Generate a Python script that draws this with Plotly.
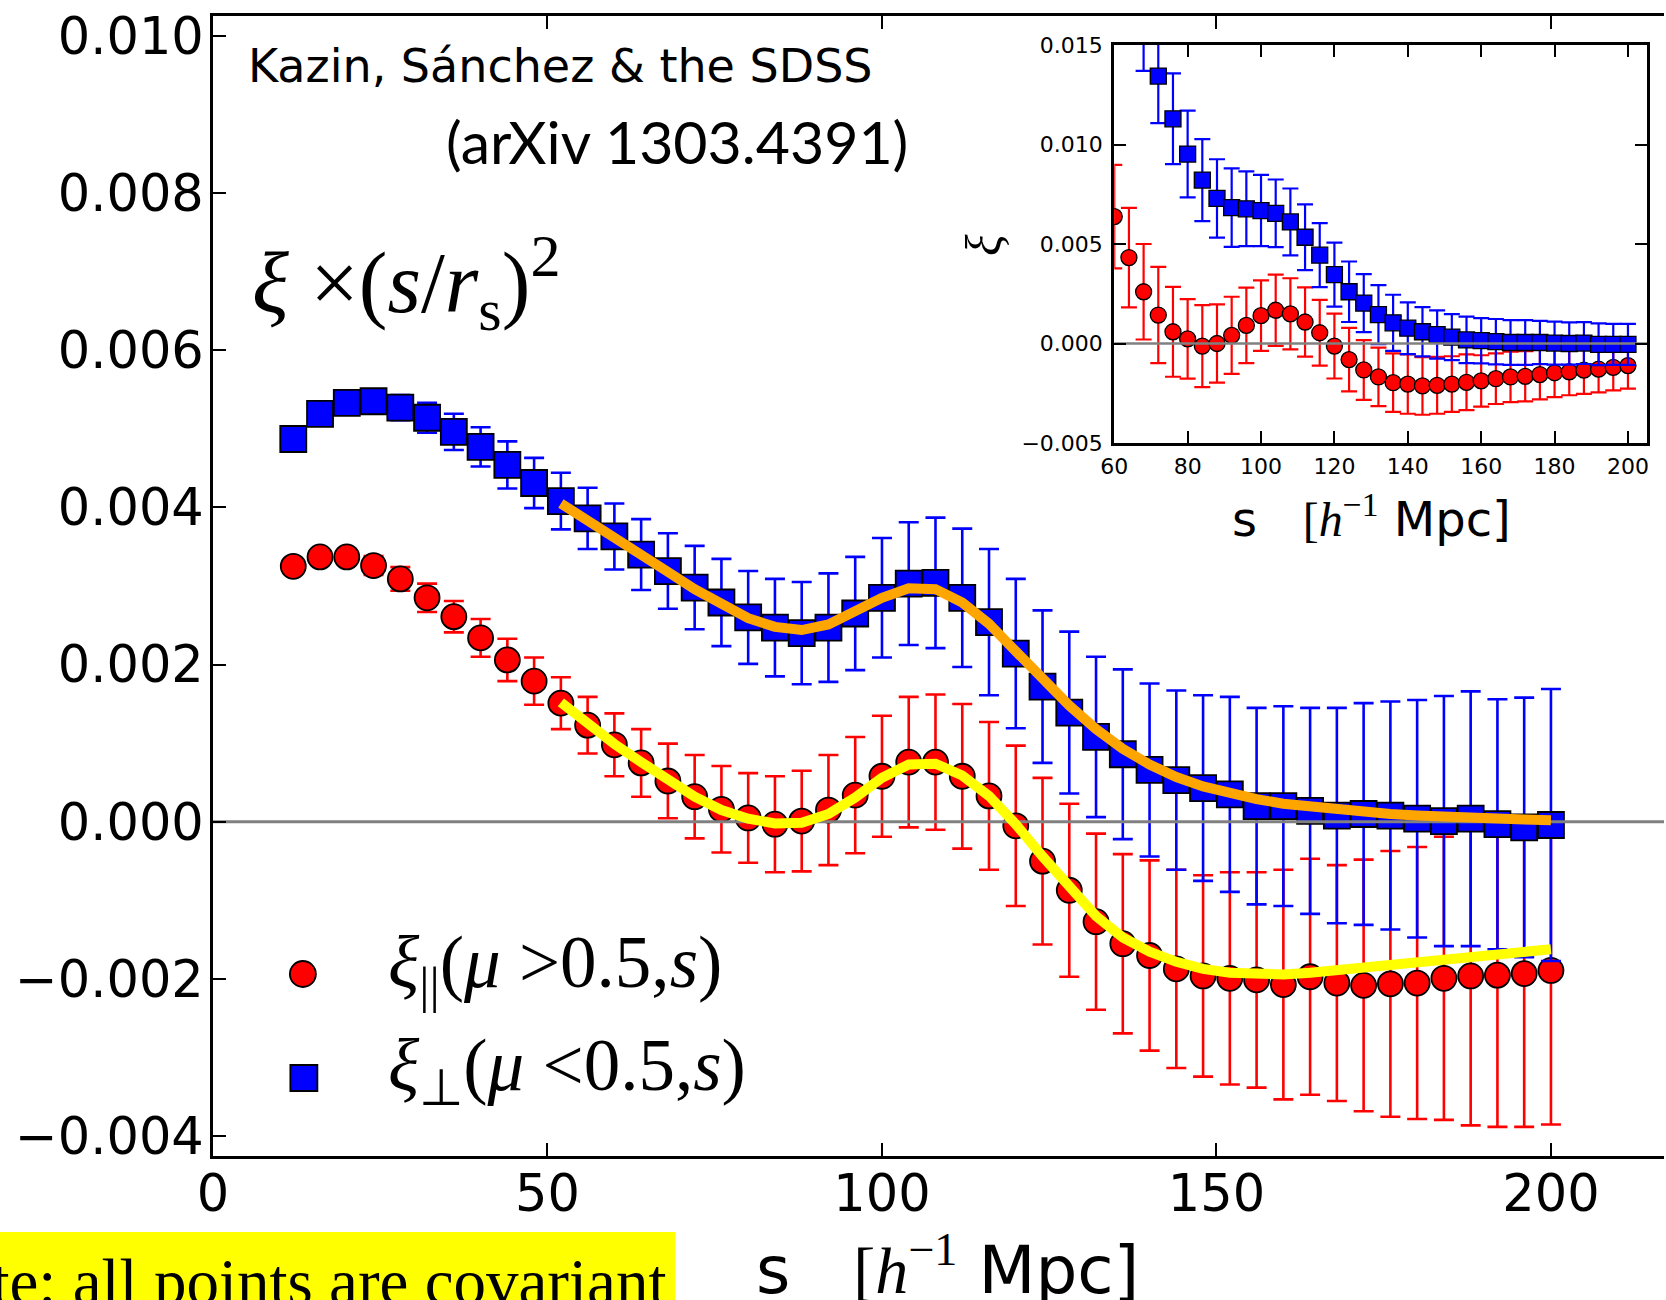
import numpy as np
import plotly.graph_objects as go

# ---------------------------------------------------------------------------
# Data: clustering wedges, values of xi * (s/r_s)^2 in units of 1e-3
# ---------------------------------------------------------------------------
s_bins = [12, 16, 20, 24, 28, 32, 36, 40, 44, 48, 52, 56, 60, 64, 68, 72,
          76, 80, 84, 88, 92, 96, 100, 104, 108, 112, 116, 120, 124, 128,
          132, 136, 140, 144, 148, 152, 156, 160, 164, 168, 172, 176, 180,
          184, 188, 192, 196, 200]

xi_par = [3.25, 3.37, 3.37, 3.26, 3.09, 2.85, 2.61, 2.34, 2.06, 1.79, 1.51,
          1.23, 0.98, 0.75, 0.52, 0.32, 0.16, 0.05, -0.03, 0.01, 0.15, 0.34,
          0.58, 0.76, 0.76, 0.58, 0.33, -0.05, -0.50, -0.87, -1.27, -1.55,
          -1.70, -1.87, -1.96, -1.99, -2.01, -2.07, -1.97, -2.05, -2.08,
          -2.06, -2.05, -1.99, -1.96, -1.95, -1.93, -1.89]
xi_par_err = [0.08, 0.09, 0.10, 0.12, 0.15, 0.18, 0.20, 0.24, 0.27, 0.30,
              0.33, 0.36, 0.40, 0.43, 0.475, 0.53, 0.55, 0.57, 0.61, 0.64,
              0.70, 0.74, 0.77, 0.83, 0.86, 0.92, 0.94, 1.02, 1.06, 1.10,
              1.12, 1.14, 1.21, 1.26, 1.28, 1.35, 1.37, 1.46, 1.50, 1.50,
              1.60, 1.69, 1.73, 1.80, 1.90, 1.93, 1.95, 1.96]

xi_perp = [4.87, 5.19, 5.33, 5.35, 5.27, 5.14, 4.96, 4.77, 4.54, 4.31, 4.08,
           3.86, 3.63, 3.40, 3.19, 2.98, 2.79, 2.60, 2.47, 2.40, 2.47, 2.65,
           2.85, 3.03, 3.04, 2.85, 2.54, 2.14, 1.72, 1.39, 1.08, 0.86, 0.66,
           0.53, 0.43, 0.35, 0.20, 0.20, 0.14, 0.08, 0.10, 0.08, 0.04, 0.01,
           0.04, -0.03, -0.07, -0.04]
xi_perp_err = [0.08, 0.10, 0.11, 0.13, 0.16, 0.19, 0.23, 0.25, 0.30, 0.32,
               0.36, 0.39, 0.42, 0.45, 0.48, 0.53, 0.555, 0.59, 0.62, 0.65,
               0.69, 0.72, 0.76, 0.78, 0.83, 0.88, 0.93, 0.95, 0.97, 1.03,
               1.02, 1.08, 1.10, 1.14, 1.18, 1.24, 1.25, 1.27, 1.31, 1.37,
               1.41, 1.45, 1.51, 1.59, 1.62, 1.59, 1.65, 1.73]

# best-fitting models, plotted from s = 52
s_model = [52, 56, 60, 64, 68, 72, 76, 80, 84, 88, 92, 96, 100, 104, 108,
           112, 116, 120, 124, 128, 132, 136, 140, 144, 148, 152, 156, 160,
           164, 168, 172, 176, 180, 184, 188, 192, 196, 200]
model_par = [1.52, 1.25, 0.99, 0.76, 0.53, 0.32, 0.15, 0.04, -0.02, -0.01,
             0.10, 0.31, 0.56, 0.73, 0.74, 0.59, 0.33, -0.03, -0.44, -0.84,
             -1.20, -1.47, -1.65, -1.78, -1.87, -1.92, -1.94, -1.94, -1.92,
             -1.89, -1.86, -1.82, -1.79, -1.75, -1.72, -1.69, -1.66, -1.62]
model_perp = [4.05, 3.84, 3.62, 3.40, 3.18, 2.96, 2.76, 2.59, 2.48, 2.44,
              2.51, 2.68, 2.85, 2.97, 2.96, 2.79, 2.52, 2.17, 1.82, 1.48,
              1.18, 0.93, 0.73, 0.57, 0.45, 0.36, 0.29, 0.23, 0.19, 0.15,
              0.12, 0.10, 0.08, 0.06, 0.05, 0.04, 0.03, 0.02]

# inset: plain xi(s) in units of 1e-3
s_inset = [60, 64, 68, 72, 76, 80, 84, 88, 92, 96, 100, 104, 108, 112, 116,
           120, 124, 128, 132, 136, 140, 144, 148, 152, 156, 160, 164, 168,
           172, 176, 180, 184, 188, 192, 196, 200]
xi_par_raw = [6.38, 4.32, 2.60, 1.43, 0.59, 0.23, -0.13, 0.00, 0.41, 0.91,
              1.40, 1.67, 1.49, 1.08, 0.54, -0.13, -0.81, -1.33, -1.68,
              -1.97, -2.04, -2.13, -2.10, -2.04, -1.95, -1.88, -1.77, -1.68,
              -1.65, -1.56, -1.47, -1.42, -1.34, -1.29, -1.20, -1.11]
xi_par_raw_err = [2.60, 2.50, 2.40, 2.42, 2.26, 2.00, 2.06, 1.97, 1.94, 1.90,
                  1.77, 1.79, 1.79, 1.74, 1.65, 1.63, 1.60, 1.50, 1.47, 1.47,
                  1.49, 1.45, 1.43, 1.40, 1.40, 1.29, 1.27, 1.27, 1.26, 1.25,
                  1.22, 1.18, 1.19, 1.17, 1.16, 1.16]
xi_perp_raw = [None, None, 16.1, 13.44, 11.29, 9.52, 8.21, 7.29, 6.83, 6.77,
               6.68, 6.54, 6.11, 5.34, 4.44, 3.46, 2.60, 2.03, 1.45, 1.04,
               0.77, 0.59, 0.45, 0.32, 0.18, 0.14, 0.09, 0.05, 0.05, 0.05,
               0.02, 0.00, 0.02, -0.04, -0.04, -0.04]
xi_perp_raw_err = [None, None, 2.40, 2.37, 2.28, 2.18, 2.06, 1.97, 1.97,
                   1.88, 1.79, 1.70, 1.68, 1.65, 1.61, 1.61, 1.52, 1.46,
                   1.48, 1.41, 1.30, 1.24, 1.21, 1.16, 1.17, 1.14, 1.14,
                   1.12, 1.12, 1.09, 1.08, 1.06, 1.05, 1.05, 1.03, 1.03]

# tick labels
main_xticks = [0, 50, 100, 150, 200]
main_yticks = [-0.004, -0.002, 0.0, 0.002, 0.004, 0.006, 0.008, 0.010]
main_yticklabels = ["\u22120.004", "\u22120.002", "0.000", "0.002", "0.004",
                    "0.006", "0.008", "0.010"]
inset_xticks = [60, 80, 100, 120, 140, 160, 180, 200]
inset_yticks = [-0.005, 0.0, 0.005, 0.010, 0.015]
inset_yticklabels = ["\u22120.005", "0.000", "0.005", "0.010", "0.015"]

label_par = "<i>\u03be</i><sub>||</sub>(<i>\u03bc</i> >0.5,<i>s</i>)"
label_perp = "<i>\u03be</i><sub>\u22a5</sub>(<i>\u03bc</i> <0.5,<i>s</i>)"
xlabel = ("s&nbsp;&nbsp;&nbsp;<span style='font-family:Liberation Serif'>"
          "[<i>h</i><sup>\u22121</sup></span>&nbsp;Mpc]")

UNIT = 1e-3


def scaled(values):
    return [None if v is None else v * UNIT for v in values]


# ---------------------------------------------------------------------------
# Geometry of the canvas (pixels)
# ---------------------------------------------------------------------------
W, H = 1666, 1300
ML, MT, MB = 213, 16, 144
PW, PH = W - ML, H - MT - MB

X_RANGE = [0, 216.9]
Y_RANGE = [-0.00425, 0.01025]
XIN_RANGE = [60, 205.2]
YIN_RANGE = [-0.005, 0.015]


def px(x):
    return (x - ML) / PW


def py(y):
    return (H - MB - y) / PH


RED, BLUE = "#ff0000", "#0000ff"
SERIF = "Liberation Serif, Times New Roman, serif"
SANS = "DejaVu Sans, sans-serif"

fig = go.Figure()

# main panel points
fig.add_trace(go.Scatter(
    x=s_bins, y=scaled(xi_par), mode="markers", xaxis="x", yaxis="y",
    marker=dict(symbol="circle", size=25, color=RED,
                line=dict(color="black", width=1.8)),
    error_y=dict(type="data", array=scaled(xi_par_err), color=RED,
                 thickness=2.6, width=10),
    showlegend=False))
fig.add_trace(go.Scatter(
    x=s_bins, y=scaled(xi_perp), mode="markers", xaxis="x", yaxis="y",
    marker=dict(symbol="square", size=26, color=BLUE,
                line=dict(color="black", width=1.8)),
    error_y=dict(type="data", array=scaled(xi_perp_err), color=BLUE,
                 thickness=2.6, width=10),
    showlegend=False))

# zero reference line across the main panel
fig.add_trace(go.Scatter(
    x=X_RANGE, y=[0, 0], mode="lines", xaxis="x", yaxis="y",
    line=dict(color="#808080", width=3), showlegend=False, hoverinfo="skip"))

# model curves
fig.add_trace(go.Scatter(
    x=s_model, y=scaled(model_perp), mode="lines", xaxis="x", yaxis="y",
    line=dict(color="#ffa500", width=10), showlegend=False))
fig.add_trace(go.Scatter(
    x=s_model, y=scaled(model_par), mode="lines", xaxis="x", yaxis="y",
    line=dict(color="#ffff00", width=10), showlegend=False))

# inset points
fig.add_trace(go.Scatter(
    x=s_inset, y=scaled(xi_par_raw), mode="markers", xaxis="x2", yaxis="y2",
    marker=dict(symbol="circle", size=16, color=RED,
                line=dict(color="black", width=1.3)),
    error_y=dict(type="data", array=scaled(xi_par_raw_err), color=RED,
                 thickness=2.2, width=8),
    showlegend=False, cliponaxis=True))
fig.add_trace(go.Scatter(
    x=s_inset, y=scaled(xi_perp_raw), mode="markers", xaxis="x2", yaxis="y2",
    marker=dict(symbol="square", size=16, color=BLUE,
                line=dict(color="black", width=1.3)),
    error_y=dict(type="data", array=scaled(xi_perp_raw_err), color=BLUE,
                 thickness=2.2, width=8),
    showlegend=False, cliponaxis=True))
fig.add_trace(go.Scatter(
    x=XIN_RANGE, y=[0, 0], mode="lines", xaxis="x2", yaxis="y2",
    line=dict(color="#808080", width=2.5), showlegend=False,
    hoverinfo="skip"))

axis_common = dict(showgrid=False, zeroline=False, showline=True,
                   linecolor="black", ticks="inside", tickcolor="black",
                   tickfont=dict(family=SANS, color="black"))

# inset placement (pixels)
INSET_L, INSET_R, INSET_T, INSET_B = 1115.5, 1649, 45, 443

fig.update_layout(
    width=W, height=H,
    margin=dict(l=ML, r=0, t=MT, b=MB, pad=0),
    paper_bgcolor="white", plot_bgcolor="white",
    font=dict(family=SANS, color="black"),
    xaxis=dict(axis_common, domain=[0, 1], range=X_RANGE, anchor="y",
               tickvals=main_xticks, ticktext=[str(t) for t in main_xticks],
               ticklen=13, tickwidth=1.5, linewidth=3, mirror="ticks",
               tickfont=dict(family=SANS, size=51, color="black"),
               ticklabelstandoff=-9),
    yaxis=dict(axis_common, domain=[0, 1], range=Y_RANGE, anchor="x",
               tickvals=main_yticks, ticktext=main_yticklabels,
               ticklen=13, tickwidth=1.5, linewidth=3, mirror=False,
               tickfont=dict(family=SANS, size=51, color="black"),
               ticklabelstandoff=-4),
    xaxis2=dict(axis_common, domain=[px(INSET_L), px(INSET_R)],
                range=XIN_RANGE, anchor="y2",
                tickvals=inset_xticks,
                ticktext=[str(t) for t in inset_xticks],
                ticklen=12, tickwidth=1.5, linewidth=3, mirror="ticks",
                tickfont=dict(family=SANS, size=22, color="black"),
                ticklabelstandoff=2),
    yaxis2=dict(axis_common, domain=[py(INSET_B), py(INSET_T)],
                range=YIN_RANGE, anchor="x2",
                tickvals=inset_yticks, ticktext=inset_yticklabels,
                ticklen=12, tickwidth=1.5, linewidth=3, mirror="ticks",
                tickfont=dict(family=SANS, size=22, color="black"),
                ticklabelstandoff=4),
)

annotations = [
    dict(text="Kazin, S\u00e1nchez & the SDSS", x=px(246), y=py(66),
         xanchor="left", yanchor="middle",
         font=dict(family=SANS, size=46, color="black")),
    dict(text="(arXiv 1303.4391)", x=px(678), y=py(141),
         xanchor="center", yanchor="middle",
         font=dict(family="Gill Sans, Lato, sans-serif", size=59,
                   color="black")),
    dict(text="<i>\u03be</i>&nbsp;\u00d7(<i>s</i>/<i>r</i><sub>s</sub>)"
              "<sup>2</sup>",
         x=px(406), y=py(283), xanchor="center", yanchor="middle",
         font=dict(family=SERIF, size=86, color="black")),
    dict(text=label_par, x=px(386), y=py(967), xanchor="left",
         yanchor="middle", font=dict(family=SERIF, size=73, color="black")),
    dict(text=label_perp, x=px(386), y=py(1070), xanchor="left",
         yanchor="middle", font=dict(family=SERIF, size=73, color="black")),
    dict(text=xlabel, x=px(755), y=py(1266), xanchor="left",
         yanchor="middle", font=dict(family=SANS, size=66, color="black")),
    dict(text=xlabel, x=px(1231), y=py(516), xanchor="left",
         yanchor="middle", font=dict(family=SANS, size=48, color="black")),
    dict(text="<i>\u03be</i>", x=px(985), y=py(245), textangle=-90,
         xanchor="center", yanchor="middle",
         font=dict(family=SERIF, size=50, color="black")),
    dict(text="Note: all points are covariant", x=px(669), y=py(1282),
         xanchor="right", yanchor="middle",
         font=dict(family=SERIF, size=65, color="black")),
]
for a in annotations:
    a.update(xref="paper", yref="paper", showarrow=False)
fig.update_layout(annotations=annotations)

shapes = [
    # yellow note box
    dict(type="rect", xref="paper", yref="paper", x0=px(-10), x1=px(676),
         y0=py(1232), y1=py(1320), fillcolor="#ffff00",
         line=dict(width=0), layer="below"),
    # legend symbols
    dict(type="circle", xref="paper", yref="paper",
         xsizemode="pixel", ysizemode="pixel",
         xanchor=px(303), yanchor=py(974), x0=-13, x1=13, y0=-13,
         y1=13, fillcolor=RED, line=dict(color="black", width=1.8)),
    dict(type="rect", xref="paper", yref="paper",
         xsizemode="pixel", ysizemode="pixel",
         xanchor=px(304), yanchor=py(1078), x0=-13.5, x1=13.5, y0=-13,
         y1=13, fillcolor=BLUE, line=dict(color="black", width=1.8)),
]
fig.update_layout(shapes=shapes)

fig.write_html("out.html", config={"displayModeBar": False})
